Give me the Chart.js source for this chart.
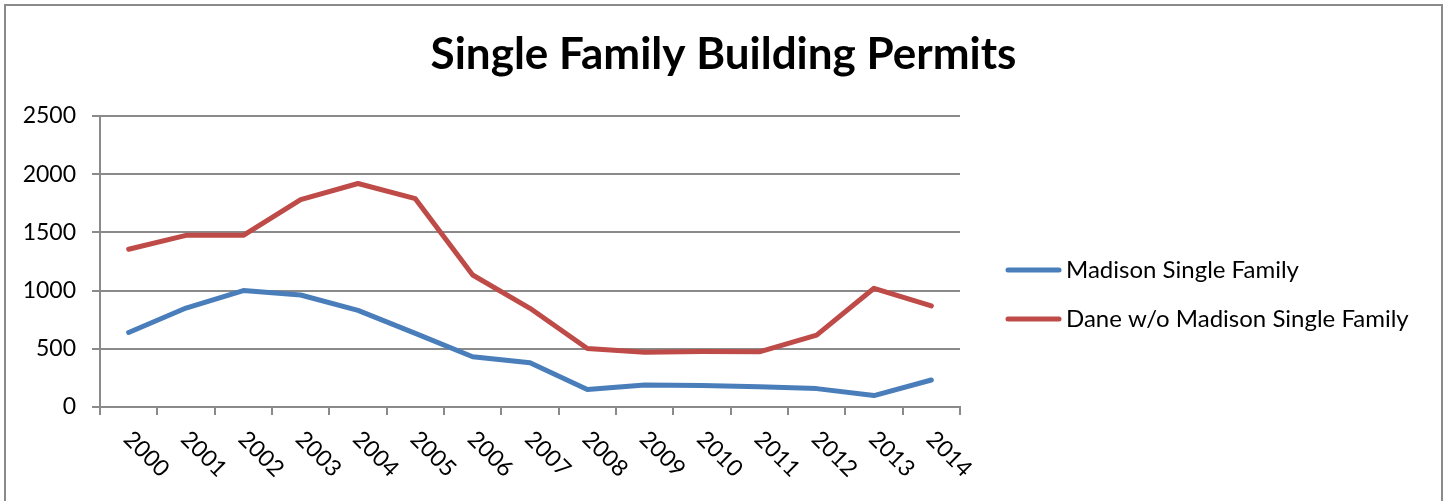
<!DOCTYPE html>
<html>
<head>
<meta charset="utf-8">
<title>Single Family Building Permits</title>
<script src="https://cdn.jsdelivr.net/npm/chart.js@4.4.1/dist/chart.umd.min.js"></script>
<style>
  html, body { margin: 0; padding: 0; background: #fff; overflow: hidden; }
  canvas { display: block; }
</style>
</head>
<body>
<canvas id="permits" width="1447" height="501"></canvas>
<script>
// ── Data ────────────────────────────────────────────────────────────────────
const years    = ["2000","2001","2002","2003","2004","2005","2006","2007","2008","2009","2010","2011","2012","2013","2014"];
const madison  = [640, 850, 1000, 962, 830, 632, 432, 380, 150, 190, 185, 175, 158, 98, 232];
const dane     = [1355, 1475, 1475, 1782, 1920, 1790, 1134, 848, 502, 470, 476, 474, 618, 1020, 868];
const seriesNames = ["Madison Single Family", "Dane w/o Madison Single Family"];
const yMax  = 2500;
const yStep = 500;

const TITLE  = "Single Family Building Permits";
const FONT   = "Lato, 'Open Sans', sans-serif";
const GRID   = "#8a8a8a";
const BLUE   = "#4a7ebb";
const RED    = "#be4b48";

// frame, title, legend and the slanted year labels
const decor = {
  id: "decor",
  beforeDraw(chart) {
    const ctx = chart.ctx;
    ctx.save();
    ctx.fillStyle = "#fff";
    ctx.fillRect(0, 0, chart.width, chart.height);
    ctx.strokeStyle = GRID;
    ctx.lineWidth = 2;
    ctx.strokeRect(5, 5, chart.width - 10, chart.height + 20);
    ctx.restore();
  },
  afterDraw(chart) {
    const ctx = chart.ctx;
    const xs  = chart.scales.x;
    ctx.save();

    // title
    ctx.fillStyle = "#000";
    ctx.font = "bold 44px " + FONT;
    ctx.textAlign = "center";
    ctx.textBaseline = "alphabetic";
    ctx.fillText(TITLE, chart.width / 2, 69);

    // year labels, slanted down to the right
    ctx.font = "23px " + FONT;
    ctx.textAlign = "left";
    ctx.textBaseline = "top";
    years.forEach((y, i) => {
      const px = xs.getPixelForValue(i);
      ctx.save();
      ctx.translate(px + 7, 427);
      ctx.rotate(Math.PI / 4);
      ctx.fillText(y, 0, 0);
      ctx.restore();
    });

    // legend
    const rows = [270, 319];
    chart.data.datasets.forEach((ds, i) => {
      ctx.strokeStyle = ds.borderColor;
      ctx.lineWidth = 5;
      ctx.lineCap = "round";
      ctx.beginPath();
      ctx.moveTo(1008, rows[i]);
      ctx.lineTo(1059, rows[i]);
      ctx.stroke();
      ctx.fillStyle = "#000";
      ctx.font = "24px " + FONT;
      ctx.textBaseline = "middle";
      ctx.fillText(ds.label, 1066, rows[i]);
    });
    ctx.restore();
  }
};

new Chart(document.getElementById("permits").getContext("2d"), {
  type: "line",
  data: {
    labels: years,
    datasets: [
      { label: seriesNames[0], data: madison, borderColor: BLUE, backgroundColor: BLUE },
      { label: seriesNames[1], data: dane,    borderColor: RED,  backgroundColor: RED }
    ]
  },
  options: {
    responsive: false,
    animation: false,
    events: [],
    layout: { padding: { left: 0, right: 487, top: 116, bottom: 0 } },
    elements: {
      line:  { borderWidth: 5, tension: 0, borderCapStyle: "round", borderJoinStyle: "round" },
      point: { radius: 0 }
    },
    plugins: {
      legend:  { display: false },
      title:   { display: false },
      tooltip: { enabled: false }
    },
    scales: {
      x: {
        offset: true,
        grid: { offset: true, drawOnChartArea: false, drawTicks: true, tickLength: 8, color: GRID, lineWidth: 2 },
        border: { display: true, color: GRID, width: 2 },
        ticks: { display: false },
        afterFit: s => { s.height = 94; }
      },
      y: {
        min: 0, max: yMax,
        ticks: { stepSize: yStep, color: "#000", padding: 16, font: { family: FONT, size: 23 },
                 callback: v => String(v) },
        grid: { color: GRID, lineWidth: 2, tickLength: 8 },
        border: { display: true, color: GRID, width: 2 },
        afterFit: s => { s.width = 100; }
      }
    }
  },
  plugins: [decor]
});
</script>
</body>
</html>
